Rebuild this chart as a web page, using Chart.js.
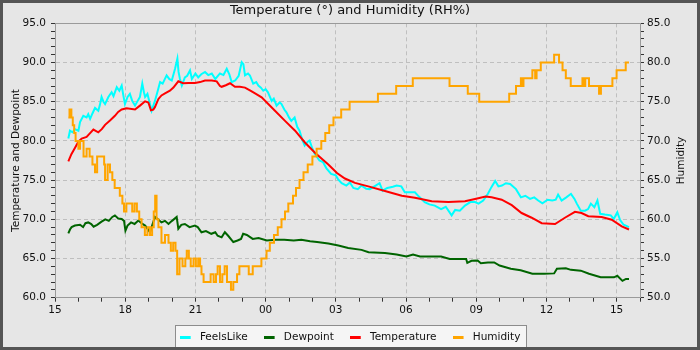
<!DOCTYPE html>
<html><head><meta charset="utf-8">
<script src="https://cdn.jsdelivr.net/npm/chart.js@4.4.0/dist/chart.umd.min.js"></script>
<style>html,body{margin:0;padding:0;background:#e6e6e6}#wrap{width:700px;height:350px}</style>
</head><body><div id="wrap"><canvas id="c" width="700" height="350"></canvas></div>
<script>
// hours after 15:00 of the first day
const xTickLabels = ['15','18','21','00','03','06','09','12','15'];

const feelsH = [0.57,0.64,0.75,0.85,1.0,1.07,1.21,1.35,1.42,1.5,1.6,1.71,1.85,1.92,1.99,2.07,2.14,2.28,2.42,2.5,2.64,2.75,2.85,2.92,2.99,3.1,3.2,3.3,3.42,3.55,3.63,3.73,3.8,3.85,3.95,4.05,4.13,4.27,4.4,4.49,4.6,4.77,4.88,4.99,5.13,5.23,5.28,5.34,5.42,5.55,5.65,5.77,5.85,6.0,6.12,6.25,6.41,6.55,6.7,6.85,7.05,7.2,7.34,7.45,7.55,7.7,7.85,7.98,8.05,8.12,8.25,8.33,8.47,8.6,8.69,8.8,8.9,9.0,9.1,9.26,9.35,9.47,9.6,9.68,9.8,9.89,10.0,10.1,10.24,10.35,10.45,10.55,10.67,10.8,10.88,11.0,11.1,11.3,11.45,11.6,11.8,12.0,12.1,12.25,12.45,12.6,12.75,12.94,13.1,13.3,13.45,13.65,13.87,14.0,14.2,14.44,14.6,14.8,14.95,15.2,15.38,15.55,15.8,16.0,16.23,16.5,16.7,16.95,17.1,17.3,17.52,17.75,17.95,18.1,18.3,18.5,18.65,18.81,18.95,19.1,19.27,19.45,19.7,19.91,20.1,20.3,20.48,20.65,20.83,21.05,21.25,21.4,21.5,21.65,21.85,22.05,22.2,22.3,22.47,22.65,22.78,22.9,23.05,23.18,23.3,23.5,23.75,23.88,24.03,24.15,24.3,24.53];
const feelsV = [80.3,81.3,81.1,81.5,81.3,82.4,83.2,83.0,83.4,82.8,83.5,84.2,83.85,84.6,85.6,85.0,84.7,85.6,86.2,85.7,86.85,86.4,87.05,85.8,84.7,85.6,86.0,85.1,84.5,85.2,85.6,87.3,86.2,85.6,86.0,84.8,83.85,85.1,86.5,87.5,87.3,88.35,87.9,87.7,89.2,90.5,88.8,87.9,87.05,88.1,88.3,89.0,87.9,88.6,88.1,88.5,88.8,88.4,88.6,87.9,88.6,88.4,89.2,88.5,87.5,87.7,88.3,90.05,89.8,88.35,88.6,88.35,87.3,87.5,87.05,86.8,86.4,86.6,86.2,85.1,85.4,84.5,84.9,84.7,84.0,83.65,83.0,82.55,83.0,81.8,81.3,80.3,79.4,79.9,80.05,79.0,78.35,77.5,77.3,76.5,75.8,75.6,75.1,74.6,74.3,74.7,74.0,73.85,74.3,73.9,73.85,74.2,74.6,73.65,74.0,74.15,74.3,74.2,73.45,73.45,73.45,72.9,72.2,71.9,71.75,71.3,71.6,70.5,71.2,71.1,71.75,72.2,72.2,72.0,72.4,73.25,74.1,74.9,74.2,74.3,74.6,74.5,73.85,72.8,73.0,72.6,72.8,72.4,72.05,72.5,72.4,72.5,73.15,72.4,72.8,73.25,72.6,72.0,71.1,71.1,71.3,72.0,71.55,72.4,70.7,70.6,70.5,70.05,70.9,69.9,69.3,69.0];

const dewH = [0.57,0.64,0.71,0.85,1.07,1.2,1.3,1.42,1.55,1.65,1.8,1.99,2.15,2.3,2.45,2.56,2.7,2.85,2.95,3.01,3.1,3.25,3.4,3.56,3.7,3.85,3.95,4.06,4.15,4.27,4.4,4.55,4.7,4.85,5.0,5.2,5.27,5.4,5.55,5.75,5.98,6.1,6.26,6.45,6.68,6.85,6.95,7.12,7.26,7.4,7.62,7.8,7.95,8.04,8.2,8.45,8.7,9.05,9.4,9.8,10.2,10.53,10.9,11.2,11.68,12.11,12.53,13.1,13.4,14.1,14.6,15.02,15.3,15.6,16.5,16.87,17.57,17.62,17.8,18.06,18.2,18.5,18.77,19.0,19.48,19.9,20.4,20.9,21.33,21.45,21.83,22.05,22.47,22.82,23.32,23.89,24.03,24.25,24.4,24.53];
const dewV = [68.2,68.7,69.0,69.2,69.3,69.0,69.5,69.6,69.4,69.05,69.3,69.7,70.0,69.8,70.3,70.5,70.1,70.05,69.8,68.55,69.2,69.6,69.4,69.85,69.5,69.2,68.8,68.35,69.2,70.3,70.0,69.6,69.8,69.4,69.8,70.3,68.8,69.3,69.4,69.0,69.2,69.0,68.35,68.5,68.15,68.35,67.9,67.7,68.35,67.9,67.1,67.3,67.5,68.15,68.0,67.5,67.6,67.3,67.4,67.4,67.3,67.4,67.2,67.1,66.9,66.65,66.35,66.1,65.8,65.7,65.5,65.25,65.5,65.25,65.25,64.95,64.95,64.45,64.7,64.75,64.4,64.5,64.5,64.1,63.7,63.5,63.05,63.05,63.1,63.7,63.75,63.55,63.45,63.05,62.6,62.6,62.8,62.15,62.4,62.4];

const tempH = [0.57,0.7,0.85,1.0,1.14,1.35,1.5,1.64,1.85,2.0,2.14,2.35,2.56,2.7,2.85,3.06,3.42,3.63,3.85,3.99,4.1,4.2,4.27,4.42,4.55,4.7,4.91,5.06,5.27,5.48,5.7,5.98,6.2,6.41,6.7,6.91,7.05,7.12,7.3,7.48,7.69,7.9,8.12,8.35,8.55,8.83,9.05,9.4,9.83,10.26,10.68,11.11,11.68,12.05,12.39,12.82,13.39,14.1,14.82,15.38,16.1,16.81,17.52,17.95,18.4,18.66,19.09,19.52,19.94,20.37,20.8,21.37,21.79,22.22,22.5,22.79,23.36,23.79,24.22,24.53];
const tempV = [77.4,78.3,79.1,79.9,80.3,80.5,81.0,81.45,81.1,81.5,82.05,82.6,83.2,83.7,84.0,84.15,84.0,84.5,85.05,84.9,83.9,84.0,84.3,85.35,85.8,86.05,86.4,86.8,87.6,87.35,87.4,87.4,87.5,87.7,87.7,87.6,87.0,86.9,87.1,87.35,86.9,86.9,86.8,86.4,86.05,85.55,84.9,83.85,82.55,81.3,79.8,78.5,77.0,75.9,75.2,74.65,74.2,73.6,73.0,72.75,72.3,72.2,72.3,72.6,72.9,72.8,72.5,71.8,70.8,70.2,69.5,69.4,70.2,70.95,70.8,70.4,70.3,69.95,69.1,68.7];

const humH = [0.57,0.62,0.7,0.76,0.82,0.88,1.0,1.07,1.22,1.35,1.48,1.6,1.71,1.8,1.95,2.1,2.14,2.25,2.35,2.45,2.55,2.77,2.88,2.95,3.05,3.3,3.4,3.5,3.6,3.7,3.84,3.95,4.06,4.15,4.22,4.28,4.34,4.42,4.55,4.7,4.85,4.95,5.05,5.15,5.22,5.32,5.45,5.57,5.63,5.72,5.8,5.92,6.02,6.12,6.2,6.26,6.35,6.65,6.78,6.88,6.95,7.05,7.15,7.25,7.35,7.52,7.62,7.78,7.88,8.28,8.45,8.82,9.04,9.18,9.36,9.52,9.68,9.83,9.97,10.17,10.3,10.45,10.62,10.8,11.0,11.18,11.38,11.55,11.72,11.9,12.23,12.59,13.8,14.58,15.29,16.86,17.64,18.13,19.41,19.7,19.91,19.96,20.02,20.4,20.52,20.58,20.76,21.33,21.54,21.69,21.83,22.04,22.54,22.6,22.66,22.82,23.25,23.33,23.82,24.0,24.39,24.53];
const humV = [73,74,73,72,71,70,69,70,68,69,68,67,66,68,68,67,65,67,66,65,64,63,62,61,62,61,62,61,60,59,58,59,58,59,61,63,60,59,57,58,57,56,57,56,53,55,54,55,56,55,54,55,54,55,54,53,52,53,52,53,54,52,53,54,52,51,52,53,54,53,54,55,56,57,58,59,60,61,62,63,64,65,66,67,68,69,70,71,72,73,74,75,76,77,78,77,76,75,76,77,78,77,78,79,78,79,80,81,80,79,78,77,78,77,78,77,76,77,78,79,80,80];

const FONT = 'DejaVu Sans';
const pts = (xs, ys) => xs.map((x, i) => ({x: x, y: ys[i]}));
function mark(color) {
  const c = document.createElement('canvas');
  c.width = 15; c.height = 3;
  const g = c.getContext('2d');
  g.fillStyle = color; g.fillRect(0, 0, 11, 3);
  return c;
}

const framePlugin = {
  id: 'frame',
  beforeDraw(chart) {
    const {ctx, width, height} = chart;
    ctx.save();
    ctx.fillStyle = '#e6e6e6';
    ctx.fillRect(0, 0, width, height);
    const lg = chart.legend;
    if (lg && lg.legendHitBoxes && lg.legendHitBoxes.length) {
      let l = Infinity, r = -Infinity, t = Infinity;
      lg.legendHitBoxes.forEach(h => { l = Math.min(l, h.left); r = Math.max(r, h.left + h.width); t = Math.min(t, h.top); });
      const L = Math.round(l - 5) + 0.5, R = Math.round(r + 6) + 0.5, T = Math.round(t - 7) + 0.5, B = Math.round(t + 15) + 0.5;
      ctx.fillStyle = '#f5f5f5';
      ctx.fillRect(L, T, R - L, B - T);
      ctx.strokeStyle = '#8c8c8c'; ctx.lineWidth = 1;
      ctx.strokeRect(L, T, R - L, B - T);
    }
    ctx.restore();
  },
  afterDraw(chart) {
    const {ctx, chartArea: a, width, height} = chart;
    ctx.save();
    ctx.strokeStyle = '#9a9a9a'; ctx.lineWidth = 1;
    ctx.beginPath();
    ctx.moveTo(Math.round(a.left) + 0.5, Math.round(a.top) + 0.5);
    ctx.lineTo(Math.round(a.right) + 0.5, Math.round(a.top) + 0.5);
    ctx.stroke();
    // right axis title, reading bottom to top
    ctx.translate(681, (a.top + a.bottom) / 2);
    ctx.rotate(-Math.PI / 2);
    ctx.fillStyle = '#111';
    ctx.font = '10.5px "' + FONT + '"';
    ctx.textAlign = 'center'; ctx.textBaseline = 'middle';
    ctx.fillText('Humidity', 0, 0);
    ctx.restore();
    ctx.save();
    ctx.strokeStyle = '#555'; ctx.lineWidth = 3;
    ctx.strokeRect(1.5, 1.5, width - 3, height - 3);
    ctx.restore();
  }
};

const gridCol = '#bfbfbf';
const tickCol = '#333';
const axisCol = '#9a9a9a';
const tickFont = {family: FONT, size: 10.5};

new Chart(document.getElementById('c'), {
  type: 'line',
  data: {
    datasets: [
      {label: 'FeelsLike', data: pts(feelsH, feelsV), borderColor: '#00ffff', backgroundColor: '#00ffff', pointStyle: mark('#00ffff'), yAxisID: 'y', order: 4},
      {label: 'Dewpoint', data: pts(dewH, dewV), borderColor: '#006400', backgroundColor: '#006400', pointStyle: mark('#006400'), yAxisID: 'y', order: 3},
      {label: 'Temperature', data: pts(tempH, tempV), borderColor: '#ff0000', backgroundColor: '#ff0000', pointStyle: mark('#ff0000'), yAxisID: 'y', order: 2},
      {label: 'Humidity', data: pts(humH, humV), borderColor: '#ffa500', backgroundColor: '#ffa500', pointStyle: mark('#ffa500'), yAxisID: 'y2', stepped: true, order: 1}
    ]
  },
  options: {
    responsive: false, animation: false, devicePixelRatio: 1,
    elements: {point: {radius: 0, hoverRadius: 0}, line: {borderWidth: 2, tension: 0, fill: false}},
    layout: {padding: {top: 0, left: 0, right: 0, bottom: 3.75}},
    plugins: {
      tooltip: {enabled: false},
      title: {display: true, text: 'Temperature (°) and Humidity (RH%)', color: '#111', font: {family: FONT, size: 13, weight: 'normal'}, padding: {top: 3, bottom: 4.7}},
      legend: {
        position: 'bottom', maxHeight: 30,
        labels: {usePointStyle: true, boxWidth: 15, pointStyleWidth: 15, padding: 16, color: '#111', font: {family: FONT, size: 10.5},
          sort: (a, b) => a.datasetIndex - b.datasetIndex}
      }
    },
    scales: {
      x: {
        type: 'linear', min: 0, max: 25,
        afterFit: s => { s.height = 18.55; },
        ticks: {stepSize: 1, autoSkip: false, maxRotation: 0, padding: 2, color: '#111', font: tickFont,
          callback: v => (v % 3 === 0 ? xTickLabels[v / 3] : '')},
        grid: {color: c => (c.tick && c.tick.value % 3 === 0 && c.tick.value > 0 && c.tick.value < 25) ? gridCol : 'rgba(0,0,0,0)', tickColor: tickCol, tickLength: 4, lineWidth: 1},
        border: {color: axisCol, dash: [4, 3]}
      },
      y: {
        position: 'left', min: 60, max: 95,
        afterFit: s => { s.width = 55; },
        ticks: {stepSize: 1, autoSkip: false, padding: 5, color: '#111', font: tickFont,
          callback: v => (v % 5 === 0 ? v.toFixed(1) : '')},
        grid: {color: c => (c.tick && c.tick.value % 5 === 0 && c.tick.value > 60 && c.tick.value < 95) ? gridCol : 'rgba(0,0,0,0)', tickColor: tickCol, tickLength: 4, lineWidth: 1},
        border: {color: axisCol, dash: [4, 3]},
        title: {display: true, text: 'Temperature and Dewpoint', color: '#111', font: {family: FONT, size: 10.5}, padding: {top: 10, bottom: 0}}
      },
      y2: {
        position: 'right', min: 50, max: 85,
        afterFit: s => { s.width = 60; },
        ticks: {stepSize: 1, autoSkip: false, padding: 3, color: '#111', font: tickFont,
          callback: v => (v % 5 === 0 ? v.toFixed(1) : '')},
        grid: {drawOnChartArea: false, tickColor: tickCol, tickLength: 4},
        border: {color: axisCol}
      }
    }
  },
  plugins: [framePlugin]
});
</script>
</body></html>
